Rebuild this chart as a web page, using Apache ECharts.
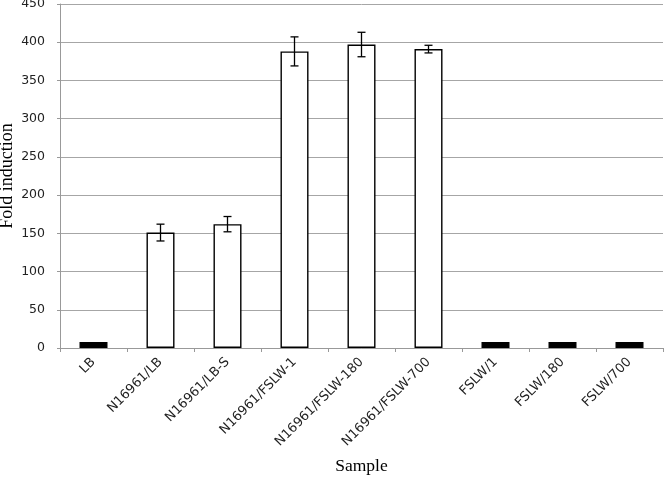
<!DOCTYPE html>
<html><head><meta charset="utf-8">
<script src="https://cdn.jsdelivr.net/npm/echarts@6/dist/echarts.min.js"></script>
<style>html,body{margin:0;padding:0;background:#fff}#c{width:664px;height:484px}</style>
</head><body><div id="c"></div>
<script>
var categories = ['LB','N16961/LB','N16961/LB-S','N16961/FSLW-1','N16961/FSLW-180','N16961/FSLW-700','FSLW/1','FSLW/180','FSLW/700'];
var values = [8, 151, 162, 388, 397, 391, 8, 8, 8];
var errors = [0, 11, 10, 19, 16, 5, 0, 0, 0];
var yTicks = [0, 50, 100, 150, 200, 250, 300, 350, 400, 450];

var chart = echarts.init(document.getElementById('c'), null, {renderer:'canvas'});
var errData = categories.map(function(c,i){ return [i, values[i]-errors[i], values[i]+errors[i], errors[i]]; });
chart.setOption({
  animation:false,
  backgroundColor:'#fff',
  grid:{left:60, right:1, top:4, bottom:136, containLabel:false, outerBoundsMode:'none'},
  xAxis:{
    type:'category', data:categories,
    boundaryGap:true,
    axisLine:{lineStyle:{color:'#999', width:1}},
    axisTick:{show:true, length:4, lineStyle:{color:'#999'}},
    axisLabel:{rotate:45, fontFamily:'DejaVu Sans', fontSize:13, color:'#222', margin:12, interval:0},
    name:'Sample', nameLocation:'middle', nameGap:109, nameMoveOverlap:false,
    nameTextStyle:{fontFamily:'Liberation Serif', fontSize:17.5, color:'#000'}
  },
  yAxis:{
    type:'value', min:yTicks[0], max:yTicks[yTicks.length-1], interval:50,
    axisLine:{show:true, lineStyle:{color:'#999', width:1}},
    axisTick:{show:true, length:3, lineStyle:{color:'#999'}},
    splitLine:{lineStyle:{color:'#a6a6a6', width:1}},
    axisLabel:{fontFamily:'DejaVu Sans', fontSize:12.5, color:'#222', margin:15},
    name:'Fold induction', nameLocation:'middle', nameGap:44, nameMoveOverlap:false,
    nameTextStyle:{fontFamily:'Liberation Serif', fontSize:18, color:'#000'}
  },
  series:[{
    type:'bar', data:values, barWidth:28,
    itemStyle:{
      color:function(p){ return categories[p.dataIndex].indexOf('N16961')===0 ? '#fff' : '#000'; },
      borderColor:'#000', borderWidth:1.4
    }
  },{
    type:'custom', data:errData, z:10,
    renderItem:function(params, api){
      if (api.value(3) <= 0) return null;
      var x = api.coord([api.value(0), api.value(1)])[0];
      var lo = api.coord([api.value(0), api.value(1)])[1];
      var hi = api.coord([api.value(0), api.value(2)])[1];
      var w = 4;
      var st = {stroke:'#000', lineWidth:1.3};
      return {type:'group', children:[
        {type:'line', shape:{x1:x, y1:lo, x2:x, y2:hi}, style:st},
        {type:'line', shape:{x1:x-w, y1:lo, x2:x+w, y2:lo}, style:st},
        {type:'line', shape:{x1:x-w, y1:hi, x2:x+w, y2:hi}, style:st}
      ]};
    }
  }]
});
</script></body></html>
